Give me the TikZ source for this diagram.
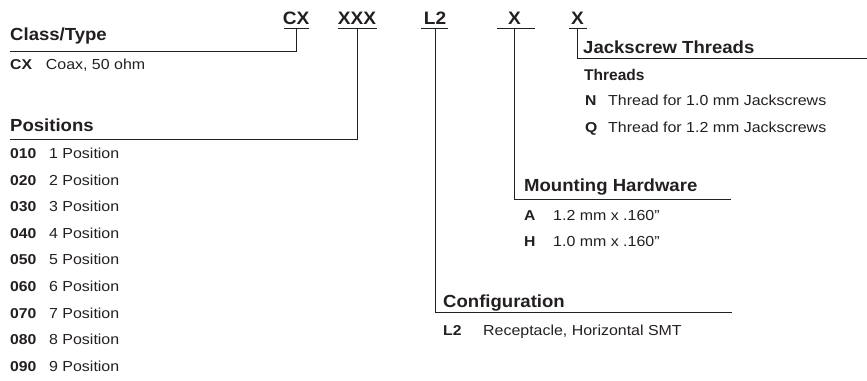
\documentclass[tikz,border=0pt]{standalone}
\usepackage{fontspec}
\setmainfont{Liberation Sans}
\newfontfamily\headfont[FakeStretch=1.06]{Liberation Sans}
\newfontfamily\bodyfont[FakeStretch=1.1]{Liberation Sans}
\definecolor{ink}{RGB}{35,31,32}
\tikzset{
  code/.style={font=\headfont\bfseries\fontsize{18}{20}\selectfont, text=ink, inner sep=0pt, anchor=base},
  head/.style={font=\headfont\bfseries\fontsize{17.5}{20}\selectfont, text=ink, inner sep=0pt, anchor=base west},
  subhead/.style={font=\bfseries\fontsize{15.5}{17}\selectfont, text=ink, inner sep=0pt, anchor=base west},
  key/.style={font=\bodyfont\bfseries\fontsize{14.3}{16}\selectfont, text=ink, inner sep=0pt, anchor=base west},
  desc/.style={font=\bodyfont\fontsize{14.5}{16}\selectfont, text=ink, inner sep=0pt, anchor=base west},
  rule/.style={draw=ink, line width=1pt}
}
\begin{document}
\begin{tikzpicture}[x=1pt, y=-1pt]
    \useasboundingbox (0,0) rectangle (867,380);
    % part number codes
    \node[code] (cx) at (296,24) {CX};
    \node[code] (xxx) at (357,24) {XXX};
    \node[code] (ltwo) at (435,24) {L2};
    \node[code] (xhw) at (514.5,24) {X};
    \node[code] (xthr) at (577.5,24) {X};
    \draw[rule] (284,28) -- (309,28);
    \draw[rule] (338,28) -- (377,28);
    \draw[rule] (421,28) -- (448,28);
    \draw[rule] (497,28) -- (535,28);
    \draw[rule] (569,28) -- (587,28);
    \coordinate (cxfoot) at (296,28);
    \coordinate (xxxfoot) at (357,28);
    \coordinate (ltwofoot) at (435,28);
    \coordinate (xhwfoot) at (514.5,28);
    \coordinate (xthrfoot) at (577,28);
    % class/type
    \node[head] (classhead) at (10,40.5) {Class/Type};
    \coordinate (classend) at (10,51.3);
    \draw[rule] (cxfoot) |- (classend);
    \node[key] (cxkey) at (10,69) {CX};
    \node[desc] (cxdesc) at (45.7,69) {Coax, 50 ohm};
    % positions
    \node[head] (poshead) at (10,131.5) {Positions};
    \coordinate (posend) at (10,139.3);
    \draw[rule] (xxxfoot) |- (posend);
    \node[key] (pa) at (10,158.5) {010};
    \node[desc] (pad) at (49,158.5) {1 Position};
    \node[key] (pb) at (10,185.1) {020};
    \node[desc] (pbd) at (49,185.1) {2 Position};
    \node[key] (pc) at (10,211.7) {030};
    \node[desc] (pcd) at (49,211.7) {3 Position};
    \node[key] (pd) at (10,238.3) {040};
    \node[desc] (pdd) at (49,238.3) {4 Position};
    \node[key] (pe) at (10,264.9) {050};
    \node[desc] (ped) at (49,264.9) {5 Position};
    \node[key] (pf) at (10,291.5) {060};
    \node[desc] (pfd) at (49,291.5) {6 Position};
    \node[key] (pg) at (10,318.1) {070};
    \node[desc] (pgd) at (49,318.1) {7 Position};
    \node[key] (ph) at (10,344.7) {080};
    \node[desc] (phd) at (49,344.7) {8 Position};
    \node[key] (pi) at (10,371.3) {090};
    \node[desc] (pid) at (49,371.3) {9 Position};
    % jackscrew threads
    \node[head] (thrhead) at (583,53.3) {Jackscrew Threads};
    \coordinate (thrend) at (867,58.3);
    \draw[rule] (xthrfoot) |- (thrend);
    \node[subhead] (thrsub) at (584,80) {Threads};
    \node[key] (nkey) at (585,105.5) {N};
    \node[desc] (ndesc) at (608,105.5) {Thread for 1.0 mm Jackscrews};
    \node[key] (qkey) at (585,132) {Q};
    \node[desc] (qdesc) at (608,132) {Thread for 1.2 mm Jackscrews};
    % mounting hardware
    \node[head] (hwhead) at (524,191.7) {Mounting Hardware};
    \coordinate (hwend) at (731,199);
    \draw[rule] (xhwfoot) |- (hwend);
    \node[key] (akey) at (524,220) {A};
    \node[desc] (adesc) at (553,220) {1.2 mm x .160”};
    \node[key] (hkey) at (524,246) {H};
    \node[desc] (hdesc) at (553,246) {1.0 mm x .160”};
    % configuration
    \node[head] (confhead) at (443,307) {Configuration};
    \coordinate (confend) at (732,312);
    \draw[rule] (ltwofoot) |- (confend);
    \node[key] (ltwokey) at (443,335) {L2};
    \node[desc] (ltwodesc) at (483,335) {Receptacle, Horizontal SMT};
\end{tikzpicture}
\end{document}
